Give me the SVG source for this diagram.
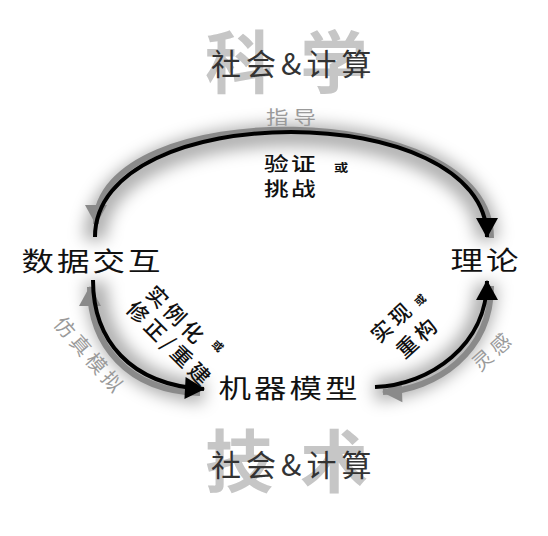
<svg xmlns="http://www.w3.org/2000/svg" width="548" height="536" viewBox="0 0 548 536">
<style>
text { font-family: "Noto Sans CJK SC", "Noto Sans", sans-serif; }
.node { font-size: 26px; fill: #111; letter-spacing: 2.4px; }
.bg { font-size: 68px; font-weight: 700; fill: #c6c6c6; letter-spacing: 27px; }
.sub { font-size: 30px; fill: #333; letter-spacing: 5px; }
.lbl { font-size: 21px; fill: #111; font-weight: 500; letter-spacing: 4px; }
.lblh { font-size: 19px; fill: #111; font-weight: 500; letter-spacing: 1.8px; }
.lblg { font-size: 20px; fill: #9a9a9a; letter-spacing: 4px; }
.or { font-size: 11px; fill: #111; font-weight: 700; }
.fwd { fill: none; stroke: #000; stroke-width: 4; marker-end: url(#hb); }
.back { fill: none; stroke: #8a8a8a; stroke-width: 6; marker-start: url(#hg); }
.glow { fill: none; stroke: #000; stroke-opacity: 0.32; stroke-width: 22; filter: url(#blur); }
</style>
<defs>
<filter id="blur" filterUnits="userSpaceOnUse" x="0" y="0" width="548" height="536">
<feGaussianBlur stdDeviation="8"/>
</filter>
<marker id="hb" markerUnits="userSpaceOnUse" markerWidth="22" markerHeight="24" refX="19" refY="11" orient="auto" overflow="visible">
<path d="M0,0 L20,11 L0,22 z" fill="#000"/>
</marker>
<marker id="hg" markerUnits="userSpaceOnUse" markerWidth="22" markerHeight="24" refX="19" refY="11" orient="auto-start-reverse" overflow="visible">
<path d="M0,0 L20,11 L0,22 z" fill="#8a8a8a"/>
</marker>
</defs>

<g id="background-science">
<text class="bg" x="205" y="88">科学</text>
<text class="sub" x="211" y="75">社会&amp;计算</text>
</g>
<g id="background-technology">
<text class="bg" x="205" y="487">技术</text>
<text class="sub" x="211" y="476">社会&amp;计算</text>
</g>

<g id="connectors">
<g id="glows">
<path class="glow" d="M95,240 C95,100 487,100 487,240"/>
<path class="glow" d="M96,282 C96,342 133,388 204,392"/>
<path class="glow" d="M375,390 C430,388 486,348 486,284"/>
</g>
<g id="edge-top">
<path class="back" d="M96,224 C96,96 491,96 491,238"/>
<path class="fwd" d="M95,237 C95,97 487,97 487,237"/>
</g>
<g id="edge-left">
<path class="back" d="M90,287 C90,344 127,391 200,393"/>
<path class="fwd" d="M93,280 C93,340 130,385 204,389"/>
</g>
<g id="edge-right">
<path class="back" d="M383,392 C436,390 491,352 491,286"/>
<path class="fwd" d="M375,387 C430,385 487,345 487,281"/>
</g>
</g>

<g id="node-data">
<text class="node" transform="translate(21.5,271) scale(1.25,1)">数据交互</text>
</g>
<g id="node-theory">
<text class="node" transform="translate(450.5,270) scale(1.25,1)">理论</text>
</g>
<g id="node-model">
<text class="node" letter-spacing="3" transform="translate(218.5,398) scale(1.25,1)">机器模型</text>
</g>

<g id="label-top">
<text class="lblg" letter-spacing="4.4" transform="translate(266,124) scale(1.25,1)" style="font-size:18px">指导</text>
<text class="lblh" transform="translate(264,171) scale(1.3,1)">验证</text>
<text class="or" transform="translate(334,172) scale(1.3,1)">或</text>
<text class="lblh" transform="translate(264,196) scale(1.3,1)">挑战</text>
</g>

<g id="label-left">
<text class="lbl" transform="translate(144.4,294.7) rotate(45)">实例化</text>
<text class="or" transform="translate(211.1,345.1) rotate(45)">或</text>
<text class="lbl" transform="translate(124.9,310.2) rotate(45)">修正/重建</text>
<text class="lblg" transform="translate(52.7,324.4) rotate(49)">仿真模拟</text>
</g>

<g id="label-right">
<text class="lbl" letter-spacing="3" transform="translate(379,344) rotate(-42)">实现</text>
<text class="or" transform="translate(418.7,306.8) rotate(-42)">或</text>
<text class="lbl" letter-spacing="3" transform="translate(404.5,359.5) rotate(-42)">重构</text>
<text class="lblg" letter-spacing="2" transform="translate(480.1,372.3) rotate(-42)">灵感</text>
</g>
</svg>
